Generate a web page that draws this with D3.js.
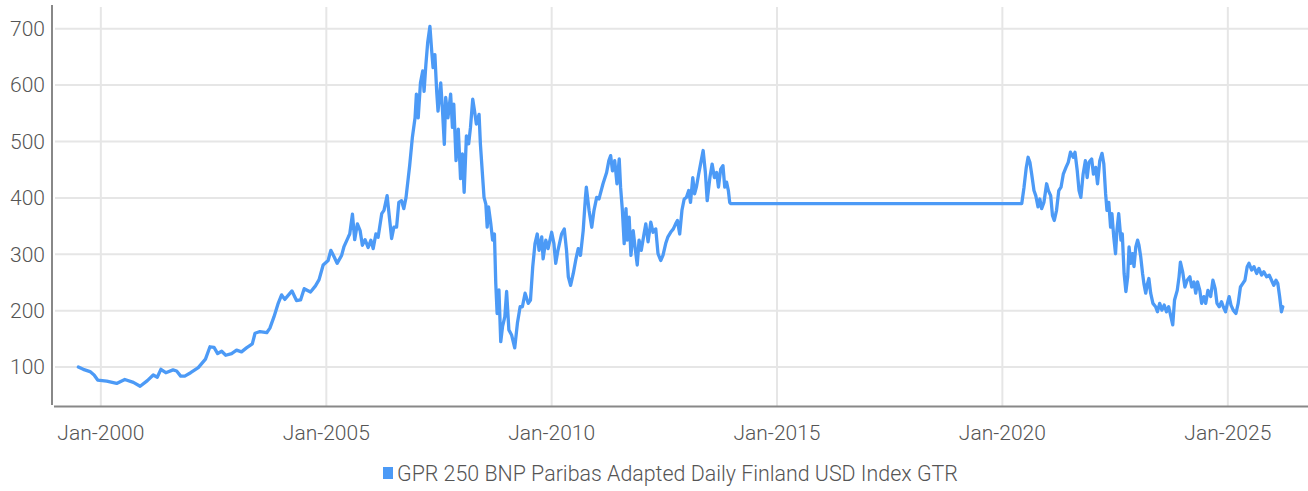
<!DOCTYPE html>
<html>
<head>
<meta charset="utf-8">
<script src="https://cdn.jsdelivr.net/npm/d3@7"></script>
<style>
  body { margin: 0; background: #fff; }
  svg text { font-family: Roboto, "Noto Sans", sans-serif; font-weight: 300; fill: #555; }
</style>
</head>
<body>
<svg id="chart"></svg>
<script>
// series name
const seriesName = "GPR 250 BNP Paribas Adapted Daily Finland USD Index GTR";

const years = [
  1999.50, 1999.61, 1999.76, 1999.85, 1999.93, 2000.13, 2000.35, 2000.53, 2000.72, 2000.87,
  2001.03, 2001.16, 2001.25, 2001.33, 2001.44, 2001.60, 2001.68, 2001.77, 2001.86, 2001.99,
  2002.16, 2002.32, 2002.42, 2002.51, 2002.59, 2002.68, 2002.77, 2002.90, 2003.01, 2003.12,
  2003.23, 2003.36, 2003.42, 2003.53, 2003.68, 2003.75, 2003.84, 2003.93, 2004.01, 2004.08,
  2004.24, 2004.34, 2004.43, 2004.51, 2004.65, 2004.76, 2004.84, 2004.93, 2005.04, 2005.10,
  2005.17, 2005.24, 2005.34, 2005.39, 2005.49, 2005.52, 2005.58, 2005.63, 2005.69, 2005.75,
  2005.80, 2005.86, 2005.93, 2005.99, 2006.04, 2006.10, 2006.15, 2006.23, 2006.28, 2006.35,
  2006.40, 2006.45, 2006.50, 2006.56, 2006.61, 2006.67, 2006.72, 2006.77, 2006.82, 2006.85,
  2006.91, 2006.97, 2007.00, 2007.04, 2007.09, 2007.14, 2007.17, 2007.21, 2007.25, 2007.30,
  2007.34, 2007.37, 2007.41, 2007.45, 2007.48, 2007.54, 2007.58, 2007.62, 2007.65, 2007.70,
  2007.76, 2007.80, 2007.83, 2007.88, 2007.93, 2007.98, 2008.02, 2008.06, 2008.11, 2008.16,
  2008.20, 2008.25, 2008.29, 2008.33, 2008.39, 2008.42, 2008.47, 2008.50, 2008.54, 2008.57,
  2008.60, 2008.65, 2008.69, 2008.73, 2008.76, 2008.79, 2008.83, 2008.87, 2008.91, 2008.96,
  2009.00, 2009.05, 2009.11, 2009.18, 2009.24, 2009.30, 2009.35, 2009.41, 2009.48, 2009.53,
  2009.58, 2009.63, 2009.68, 2009.72, 2009.78, 2009.81, 2009.87, 2009.92, 2010.00, 2010.05,
  2010.09, 2010.14, 2010.22, 2010.28, 2010.33, 2010.37, 2010.42, 2010.48, 2010.54, 2010.59,
  2010.64, 2010.70, 2010.75, 2010.77, 2010.83, 2010.89, 2010.94, 2011.00, 2011.05, 2011.07,
  2011.14, 2011.22, 2011.27, 2011.31, 2011.35, 2011.40, 2011.45, 2011.50, 2011.53, 2011.57,
  2011.61, 2011.65, 2011.68, 2011.72, 2011.76, 2011.81, 2011.86, 2011.90, 2011.94, 2011.99,
  2012.05, 2012.09, 2012.14, 2012.20, 2012.25, 2012.31, 2012.36, 2012.42, 2012.47, 2012.53,
  2012.58, 2012.64, 2012.70, 2012.75, 2012.79, 2012.84, 2012.89, 2012.94, 2012.99, 2013.04,
  2013.08, 2013.13, 2013.17, 2013.21, 2013.26, 2013.31, 2013.36, 2013.41, 2013.45, 2013.51,
  2013.56, 2013.61, 2013.66, 2013.70, 2013.75, 2013.80, 2013.84, 2013.88, 2013.92, 2013.95,
  2013.97, 2020.43,
  2020.48, 2020.53, 2020.57, 2020.61, 2020.65, 2020.70, 2020.74, 2020.79, 2020.83, 2020.87,
  2020.92, 2020.98, 2021.02, 2021.07, 2021.11, 2021.15, 2021.20, 2021.25, 2021.30, 2021.35,
  2021.41, 2021.46, 2021.51, 2021.57, 2021.61, 2021.66, 2021.70, 2021.74, 2021.79, 2021.84,
  2021.88, 2021.92, 2021.98, 2022.02, 2022.07, 2022.11, 2022.16, 2022.21, 2022.25, 2022.29,
  2022.32, 2022.36, 2022.40, 2022.43, 2022.47, 2022.51, 2022.54, 2022.58, 2022.63, 2022.66,
  2022.70, 2022.74, 2022.78, 2022.81, 2022.85, 2022.89, 2022.92, 2022.96, 2023.00, 2023.03,
  2023.07, 2023.11, 2023.14, 2023.18, 2023.22, 2023.25, 2023.29, 2023.34, 2023.40, 2023.44,
  2023.49, 2023.54, 2023.59, 2023.64, 2023.69, 2023.74, 2023.78, 2023.82, 2023.88, 2023.92,
  2023.95, 2024.00, 2024.05, 2024.10, 2024.16, 2024.20, 2024.25, 2024.29, 2024.33, 2024.38,
  2024.42, 2024.47, 2024.51, 2024.56, 2024.62, 2024.67, 2024.72, 2024.76, 2024.81, 2024.86,
  2024.90, 2024.95, 2024.99, 2025.03, 2025.07, 2025.12, 2025.18, 2025.23, 2025.28, 2025.33,
  2025.38, 2025.43, 2025.47, 2025.53, 2025.58, 2025.64, 2025.69, 2025.75, 2025.80, 2025.86,
  2025.92, 2025.97, 2026.02, 2026.07, 2026.11, 2026.15, 2026.19, 2026.22
];

// index level at each date
const values = [
  100, 96, 92, 86, 77, 75, 71, 78, 73, 66,
  76, 86, 82, 96, 90, 95, 93, 84, 84, 90,
  99, 114, 136, 135, 124, 128, 121, 124, 130, 127,
  134, 141, 160, 163, 161, 169, 189, 212, 228, 220,
  235, 218, 219, 239, 233, 244, 255, 281, 289, 307,
  296, 284, 298, 313, 331, 336, 371, 326, 354, 342,
  316, 326, 312, 325, 310, 336, 330, 372, 378, 404,
  366, 328, 348, 348, 392, 395, 381, 401, 436, 457,
  507, 542, 584, 542, 604, 625, 589, 636, 675, 704,
  660, 631, 654, 589, 554, 604, 554, 495, 578, 542,
  584, 525, 566, 466, 522, 434, 478, 410, 510, 496,
  525, 575, 554, 531, 548, 495, 436, 401, 389, 348,
  384, 354, 325, 336, 248, 195, 237, 145, 172, 189,
  234, 166, 157, 134, 178, 207, 207, 231, 213, 219,
  278, 319, 336, 307, 331, 292, 325, 310, 339, 319,
  284, 307, 336, 345, 307, 260, 245, 266, 292, 310,
  298, 342, 401, 419, 378, 348, 378, 401, 398, 404,
  425, 445, 466, 475, 448, 466, 425, 469, 419, 378,
  319, 381, 325, 366, 298, 342, 307, 281, 325, 307,
  336, 354, 322, 357, 339, 345, 301, 289, 298, 319,
  331, 339, 345, 354, 360, 336, 378, 398, 401, 413,
  392, 436, 407, 419, 442, 463, 484, 445, 395, 436,
  460, 436, 445, 419, 451, 457, 419, 428, 413, 392,
  390, 390,
  419, 454, 472, 463, 442, 413, 404, 384, 398, 381,
  392, 425, 413, 404, 369, 360, 378, 413, 419, 442,
  454, 463, 481, 472, 481, 448, 413, 401, 442, 466,
  436, 463, 469, 442, 454, 425, 466, 479, 460, 407,
  378, 392, 348, 372, 331, 301, 342, 372, 325, 336,
  266, 234, 260, 313, 284, 301, 278, 313, 325, 316,
  295, 266, 248, 231, 248, 257, 231, 213, 207, 198,
  213, 201, 210, 198, 207, 189, 175, 219, 236, 260,
  286, 269, 242, 254, 260, 242, 251, 231, 251, 236,
  213, 225, 213, 236, 225, 254, 239, 213, 207, 216,
  207, 198, 213, 225, 210, 201, 195, 213, 242, 248,
  254, 278, 284, 272, 278, 266, 275, 263, 269, 260,
  263, 254, 245, 254, 248, 225, 198, 207
];

const yTicks = [100, 200, 300, 400, 500, 600, 700];
const xTickYears = [2000, 2005, 2010, 2015, 2020, 2025];

// decimal year -> Date
function toDate(y) {
  const yr = Math.floor(y);
  const start = new Date(yr, 0, 1);
  const end = new Date(yr + 1, 0, 1);
  return new Date(+start + (y - yr) * (end - start));
}

const config = {
  width: 1308,
  height: 491,
  left: 54,
  right: 1308,
  top: 5,
  bottom: 406,
  color: "#4c9af6"
};

const data = years.map((y, i) => ({ date: toDate(y), value: values[i] }));

const svg = d3.select("#chart")
  .attr("width", config.width)
  .attr("height", config.height);

const x = d3.scaleTime()
  .domain([toDate(1998.96), toDate(2026.78)])
  .range([config.left, config.right]);

const y = d3.scaleLinear()
  .domain([31, 742])
  .range([config.bottom, config.top]);

const fmt = d3.timeFormat("%b-%Y");
const xTicks = xTickYears.map(yr => new Date(yr, 0, 1));

// grid
svg.append("g")
  .selectAll("line")
  .data(yTicks)
  .join("line")
  .attr("x1", config.left + 1)
  .attr("x2", config.right)
  .attr("y1", d => y(d))
  .attr("y2", d => y(d))
  .attr("stroke", "#e6e6e6")
  .attr("stroke-width", 2);

svg.append("g")
  .selectAll("line")
  .data(xTicks)
  .join("line")
  .attr("x1", d => x(d))
  .attr("x2", d => x(d))
  .attr("y1", config.top + 2)
  .attr("y2", config.bottom)
  .attr("stroke", "#e6e6e6")
  .attr("stroke-width", 2);

// axes lines
svg.append("line")
  .attr("x1", 52).attr("x2", 52)
  .attr("y1", config.top).attr("y2", config.bottom - 1)
  .attr("stroke", "#888").attr("stroke-width", 2);

svg.append("line")
  .attr("x1", config.left).attr("x2", config.right)
  .attr("y1", config.bottom + 0.5).attr("y2", config.bottom + 0.5)
  .attr("stroke", "#888").attr("stroke-width", 2);

// tick labels
svg.append("g")
  .selectAll("text")
  .data(yTicks)
  .join("text")
  .attr("x", 45)
  .attr("y", d => y(d))
  .attr("dy", "0.35em")
  .attr("text-anchor", "end")
  .style("font-size", "21px")
  .text(d => d);

svg.append("g")
  .selectAll("text")
  .data(xTicks)
  .join("text")
  .attr("x", d => x(d))
  .attr("y", 440)
  .attr("text-anchor", "middle")
  .style("font-size", "21px")
  .text(d => fmt(d));

// series
const line = d3.line()
  .x(d => x(d.date))
  .y(d => y(d.value));

svg.append("path")
  .datum(data)
  .attr("fill", "none")
  .attr("stroke", config.color)
  .attr("stroke-width", 3.3)
  .attr("stroke-linejoin", "round")
  .attr("stroke-linecap", "round")
  .attr("d", line);

// legend
const legend = svg.append("g").attr("transform", "translate(383,467)");
legend.append("rect")
  .attr("width", 10)
  .attr("height", 12)
  .attr("fill", config.color);
legend.append("text")
  .attr("x", 14)
  .attr("y", 6)
  .attr("dy", "0.35em")
  .style("font-size", "21.4px")
  .text(seriesName);
</script>
</body>
</html>
